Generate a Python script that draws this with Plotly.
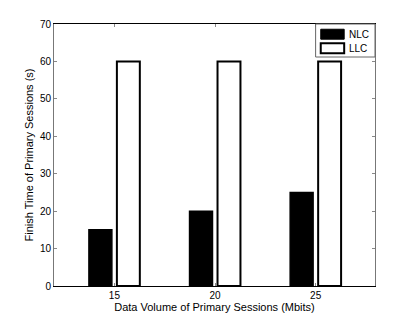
import plotly.graph_objects as go

# data
data_volume = [15, 20, 25]
positions = [1, 2, 3]
nlc_time = [15, 20, 25]
llc_time = [60, 60, 60]
series_names = ['NLC', 'LLC']

font_family = 'Liberation Sans, Arial, Helvetica, sans-serif'

fig = go.Figure()
fig.add_trace(go.Bar(
    x=positions, y=nlc_time, name=series_names[0],
    marker=dict(color='black', line=dict(color='black', width=1.5)),
))
fig.add_trace(go.Bar(
    x=positions, y=llc_time, name=series_names[1],
    marker=dict(color='white', line=dict(color='black', width=2)),
))

# MATLAB style legend box in the top right corner
box = dict(x0=0.815, x1=1.0, y0=0.874, y1=1.0)
fig.add_shape(type='rect', xref='paper', yref='paper', **box,
              line=dict(color='#666', width=1), fillcolor='white', layer='above')
swatches = [
    dict(y0=0.942, y1=0.980, fill='black', lw=1),
    dict(y0=0.888, y1=0.927, fill='white', lw=2),
]
for name, s in zip(series_names, swatches):
    fig.add_shape(type='rect', xref='paper', yref='paper',
                  x0=0.831, x1=0.904, y0=s['y0'], y1=s['y1'],
                  line=dict(color='black', width=s['lw']), fillcolor=s['fill'], layer='above')
    fig.add_annotation(xref='paper', yref='paper', x=0.912, y=(s['y0'] + s['y1']) / 2,
                       text=name, showarrow=False, xanchor='left', yanchor='middle',
                       font=dict(size=10))

# page body has an 8px margin, so the figure is a bit smaller and margins shifted
fig.update_layout(
    width=407, height=315,
    margin=dict(l=46, r=40, t=16, b=37),
    paper_bgcolor='white', plot_bgcolor='white',
    barmode='group', bargap=0.444, bargroupgap=0.18,
    font=dict(family=font_family, size=10, color='black'),
    showlegend=False,
)
fig.update_xaxes(
    range=[0.4, 3.59], automargin=False,
    tickmode='array', tickvals=positions, ticktext=[str(v) for v in data_volume],
    ticks='inside', ticklen=3, tickcolor='#888', mirror='allticks',
    showline=True, linecolor='black', linewidth=1,
    showgrid=False, zeroline=False,
    title=dict(text='Data Volume of Primary Sessions (Mbits)', font=dict(size=11), standoff=1),
)
fig.update_yaxes(
    range=[0, 70], dtick=10, automargin=False,
    ticks='inside', ticklen=3, tickcolor='#888', mirror='allticks',
    showline=True, linecolor='#777', linewidth=1,
    showgrid=False, zeroline=False,
    title=dict(text='Finish Time of Primary Sessions (s)', font=dict(size=11), standoff=4),
)

fig.write_html("out.html")
